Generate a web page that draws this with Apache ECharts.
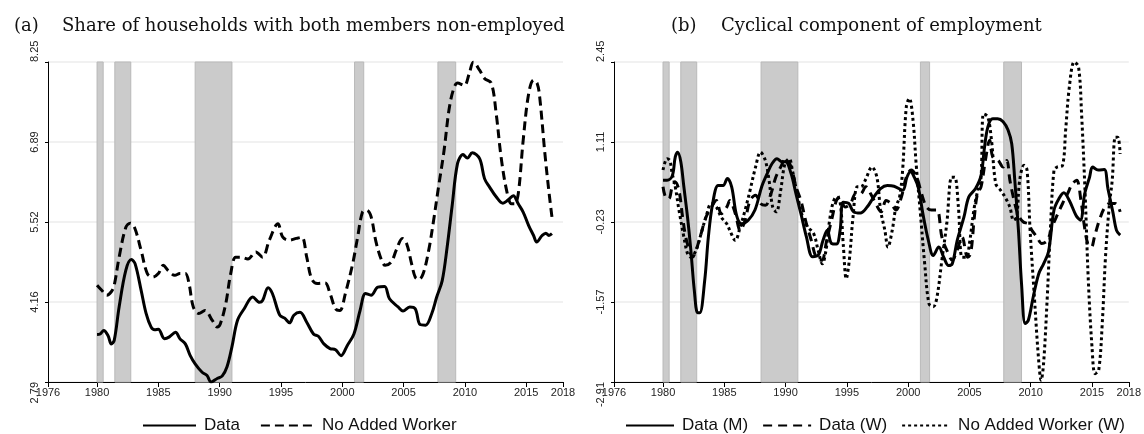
<!DOCTYPE html>
<html>
<head>
<meta charset="utf-8">
<script src="https://cdn.jsdelivr.net/npm/echarts@6/dist/echarts.min.js"></script>
<style>
html, body { margin: 0; padding: 0; background: #fff; }
#main { width: 1144px; height: 434px; }
</style>
</head>
<body>
<div id="main"></div>
<script>
// x axis ticks (years)
var xTicks = [1976, 1980, 1985, 1990, 1995, 2000, 2005, 2010, 2015, 2018];
// y tick labels
var yTicksA = ['2.79', '4.16', '5.52', '6.89', '8.25'];
var yTicksB = ['-2.91', '-1.57', '-0.23', '1.11', '2.45'];
// recession periods
var recessions = [[1980.0, 1980.5], [1981.45, 1982.75], [1988.0, 1991.0], [2001.0, 2001.75], [2007.8, 2009.25]];

// panel (a) - Data
var aDataX = [1980.0, 1980.25, 1980.55, 1980.9, 1981.16, 1981.4, 1981.8, 1982.35, 1982.8, 1983.1, 1983.6, 1984.0, 1984.4, 1984.7, 1985.0, 1985.5, 1985.9, 1986.4, 1986.75, 1987.2, 1987.6, 1988.0, 1988.55, 1988.97, 1989.3, 1989.8, 1990.2, 1990.6, 1991.0, 1991.45, 1992.0, 1992.7, 1993.25, 1993.5, 1993.95, 1994.3, 1994.9, 1995.3, 1995.7, 1996.05, 1996.55, 1997.1, 1997.65, 1998.05, 1998.5, 1999.0, 1999.45, 1999.9, 2000.4, 2000.95, 2001.45, 2001.9, 2002.35, 2002.9, 2003.45, 2003.85, 2004.55, 2004.95, 2005.5, 2005.95, 2006.35, 2006.8, 2007.3, 2007.7, 2008.15, 2008.55, 2008.95, 2009.4, 2009.85, 2010.2, 2010.6, 2011.2, 2011.6, 2012.0, 2012.55, 2013.1, 2013.5, 2013.95, 2014.35, 2014.75, 2015.2, 2015.6, 2015.85, 2016.3, 2016.6, 2016.85, 2017.1];
var aDataY = [3.60, 3.61, 3.67, 3.58, 3.44, 3.50, 4.07, 4.70, 4.88, 4.81, 4.35, 3.96, 3.73, 3.68, 3.69, 3.53, 3.56, 3.64, 3.53, 3.44, 3.24, 3.10, 2.96, 2.90, 2.79, 2.85, 2.89, 3.05, 3.39, 3.84, 4.04, 4.24, 4.15, 4.18, 4.40, 4.30, 3.93, 3.88, 3.80, 3.93, 3.98, 3.81, 3.61, 3.57, 3.44, 3.36, 3.34, 3.24, 3.41, 3.61, 4.01, 4.30, 4.27, 4.41, 4.42, 4.21, 4.07, 4.00, 4.07, 4.04, 3.77, 3.76, 3.96, 4.24, 4.52, 5.09, 5.78, 6.52, 6.67, 6.61, 6.70, 6.60, 6.26, 6.12, 5.95, 5.84, 5.89, 5.97, 5.83, 5.69, 5.46, 5.29, 5.18, 5.29, 5.33, 5.29, 5.32];
// panel (a) - No Added Worker
var aNawX = [1980.0, 1980.4, 1980.8, 1981.16, 1981.4, 1981.8, 1982.35, 1982.7, 1983.05, 1983.6, 1984.1, 1984.55, 1985.0, 1985.4, 1985.8, 1986.35, 1986.75, 1987.2, 1987.5, 1987.85, 1988.3, 1988.8, 1989.4, 1989.8, 1990.05, 1990.5, 1990.9, 1991.3, 1991.7, 1992.3, 1992.95, 1993.5, 1994.05, 1994.75, 1995.15, 1995.7, 1996.25, 1996.7, 1997.1, 1997.5, 1997.95, 1998.6, 1999.0, 1999.45, 1999.8, 2000.25, 2000.85, 2001.25, 2001.65, 2002.0, 2002.35, 2002.75, 2003.2, 2003.5, 2004.0, 2004.4, 2004.9, 2005.25, 2005.65, 2005.95, 2006.25, 2006.6, 2007.05, 2007.45, 2007.85, 2008.3, 2008.7, 2009.05, 2009.4, 2009.95, 2010.35, 2010.7, 2011.2, 2011.6, 2012.15, 2012.55, 2012.95, 2013.4, 2013.8, 2014.05, 2014.35, 2014.75, 2015.2, 2015.6, 2015.9, 2016.1, 2016.55, 2016.9, 2017.15];
var aNawY = [4.44, 4.35, 4.27, 4.33, 4.44, 4.92, 5.43, 5.50, 5.43, 5.03, 4.64, 4.58, 4.64, 4.78, 4.69, 4.61, 4.64, 4.64, 4.47, 4.07, 3.96, 4.01, 3.84, 3.73, 3.78, 4.13, 4.64, 4.92, 4.92, 4.89, 5.01, 4.92, 5.21, 5.49, 5.26, 5.21, 5.24, 5.26, 4.92, 4.55, 4.47, 4.48, 4.30, 4.04, 4.01, 4.30, 4.81, 5.26, 5.69, 5.72, 5.61, 5.18, 4.87, 4.78, 4.84, 5.04, 5.24, 5.15, 4.81, 4.58, 4.54, 4.64, 5.04, 5.55, 6.12, 6.74, 7.43, 7.77, 7.89, 7.85, 8.05, 8.25, 8.11, 7.97, 7.89, 7.37, 6.63, 6.06, 5.83, 5.83, 6.00, 6.91, 7.71, 7.94, 7.88, 7.65, 6.63, 5.95, 5.52];

// panel (b) - Data (M)
var bMenX = [1980.0, 1980.33, 1980.75, 1981.0, 1981.2, 1981.45, 1981.7, 1982.0, 1982.27, 1982.55, 1982.82, 1983.0, 1983.4, 1983.7, 1984.05, 1984.5, 1984.9, 1985.25, 1985.6, 1986.0, 1986.4, 1986.95, 1987.5, 1988.05, 1988.5, 1988.9, 1989.3, 1989.7, 1990.0, 1990.45, 1990.85, 1991.25, 1991.7, 1992.2, 1992.65, 1993.05, 1993.4, 1993.75, 1994.15, 1994.45, 1994.7, 1995.15, 1995.55, 1996.1, 1996.65, 1997.2, 1997.75, 1998.3, 1998.85, 1999.55, 1999.9, 2000.2, 2000.5, 2000.85, 2001.2, 2001.65, 2002.05, 2002.5, 2002.9, 2003.3, 2003.6, 2004.0, 2004.55, 2004.95, 2005.5, 2005.95, 2006.2, 2006.5, 2006.9, 2007.3, 2007.75, 2008.15, 2008.45, 2008.7, 2009.0, 2009.25, 2009.55, 2009.8, 2010.2, 2010.65, 2011.05, 2011.45, 2011.9, 2012.3, 2012.7, 2013.15, 2013.7, 2014.05, 2014.4, 2014.8, 2015.05, 2015.5, 2016.0, 2016.3, 2016.7, 2017.0, 2017.3];
var bMenY = [0.47, 0.47, 0.54, 0.86, 0.94, 0.78, 0.36, -0.15, -0.70, -1.37, -1.75, -1.75, -1.21, -0.48, 0.08, 0.38, 0.38, 0.50, 0.36, -0.12, -0.26, -0.20, -0.03, 0.36, 0.58, 0.75, 0.83, 0.78, 0.78, 0.58, 0.24, -0.09, -0.48, -0.81, -0.79, -0.54, -0.37, -0.59, -0.60, -0.37, 0.10, 0.08, -0.06, -0.08, 0.02, 0.19, 0.33, 0.38, 0.37, 0.30, 0.52, 0.61, 0.52, 0.33, -0.09, -0.54, -0.79, -0.65, -0.82, -0.96, -0.93, -0.54, -0.15, 0.19, 0.33, 0.55, 0.97, 1.36, 1.50, 1.50, 1.45, 1.31, 1.08, 0.47, -0.37, -1.26, -1.93, -1.88, -1.49, -1.10, -0.93, -0.73, -0.03, 0.16, 0.26, 0.13, -0.12, -0.20, 0.24, 0.52, 0.69, 0.64, 0.65, 0.33, -0.06, -0.37, -0.45];
// panel (b) - Data (W)
var bWomX = [1980.0, 1980.2, 1980.47, 1980.75, 1981.0, 1981.3, 1981.6, 1981.85, 1982.15, 1982.4, 1982.7, 1983.1, 1983.5, 1983.95, 1984.35, 1984.75, 1985.2, 1985.45, 1985.9, 1986.3, 1986.7, 1987.1, 1987.55, 1987.95, 1988.35, 1988.8, 1989.2, 1989.6, 1990.0, 1990.45, 1990.85, 1991.25, 1991.7, 1992.1, 1992.5, 1992.95, 1993.35, 1993.75, 1994.15, 1994.45, 1994.85, 1995.3, 1995.7, 1996.1, 1996.55, 1996.95, 1997.35, 1997.8, 1998.2, 1998.6, 1999.0, 1999.45, 1999.85, 2000.25, 2000.7, 2001.1, 2001.5, 2001.9, 2002.35, 2002.75, 2003.15, 2003.6, 2004.0, 2004.4, 2004.85, 2005.1, 2005.4, 2005.65, 2005.95, 2006.3, 2006.65, 2006.9, 2007.35, 2007.75, 2008.05, 2008.3, 2008.7, 2009.0, 2009.4, 2009.8, 2010.1, 2010.5, 2010.9, 2011.35, 2011.75, 2012.15, 2012.6, 2013.0, 2013.4, 2013.75, 2014.1, 2014.35, 2014.65, 2014.95, 2015.2, 2015.6, 2016.05, 2016.45, 2016.9, 2017.3];
var bWomY = [0.36, 0.19, 0.16, 0.36, 0.44, 0.30, -0.15, -0.48, -0.70, -0.82, -0.70, -0.43, -0.15, 0.02, 0.13, -0.09, 0.02, 0.13, -0.09, -0.37, -0.20, 0.13, 0.22, 0.08, 0.05, 0.24, 0.52, 0.69, 0.83, 0.69, 0.36, 0.13, -0.26, -0.54, -0.82, -0.87, -0.54, -0.20, 0.13, 0.19, 0.02, 0.08, 0.24, 0.24, 0.36, 0.24, 0.08, -0.06, 0.13, 0.08, -0.03, 0.19, 0.52, 0.64, 0.52, 0.24, 0.02, -0.03, -0.03, -0.48, -0.70, -0.87, -0.70, -0.48, -0.82, -0.76, -0.15, 0.24, 0.36, 0.80, 1.14, 0.86, 0.80, 0.69, 0.80, 0.47, 0.08, -0.12, -0.23, -0.26, -0.37, -0.48, -0.59, -0.54, -0.31, -0.12, 0.08, 0.24, 0.41, 0.47, 0.13, -0.26, -0.59, -0.65, -0.48, -0.20, 0.02, 0.08, 0.08, -0.06];
// panel (b) - No Added Worker (W)
var bNawX = [1980.0, 1980.33, 1980.55, 1980.75, 1981.0, 1981.3, 1981.7, 1982.0, 1982.27, 1982.7, 1983.1, 1983.5, 1983.95, 1984.35, 1984.75, 1985.2, 1985.45, 1985.9, 1986.3, 1986.7, 1987.1, 1987.55, 1987.95, 1988.35, 1988.65, 1988.95, 1989.25, 1989.6, 1989.95, 1990.3, 1990.55, 1991.0, 1991.4, 1991.8, 1992.3, 1992.65, 1993.0, 1993.3, 1993.55, 1993.85, 1994.15, 1994.45, 1994.7, 1994.95, 1995.2, 1995.5, 1995.85, 1996.15, 1996.5, 1997.05, 1997.45, 1997.75, 1998.1, 1998.35, 1998.7, 1999.0, 1999.3, 1999.55, 1999.85, 2000.1, 2000.4, 2000.65, 2001.0, 2001.35, 2001.7, 2002.05, 2002.35, 2002.75, 2003.15, 2003.55, 2003.8, 2004.1, 2004.4, 2004.75, 2005.0, 2005.4, 2005.75, 2005.95, 2006.15, 2006.5, 2006.8, 2007.15, 2007.55, 2007.9, 2008.3, 2008.6, 2008.85, 2009.1, 2009.45, 2009.7, 2009.95, 2010.3, 2010.65, 2010.85, 2011.05, 2011.35, 2011.6, 2011.9, 2012.15, 2012.6, 2012.85, 2013.15, 2013.55, 2013.9, 2014.15, 2014.45, 2014.7, 2015.0, 2015.25, 2015.55, 2015.85, 2016.1, 2016.4, 2016.65, 2016.9, 2017.1, 2017.3];
var bNawY = [0.64, 0.83, 0.80, 0.58, 0.36, -0.03, -0.48, -0.76, -0.82, -0.70, -0.43, -0.15, 0.08, 0.02, -0.15, -0.26, -0.37, -0.54, -0.31, -0.03, 0.30, 0.69, 0.94, 0.80, 0.47, 0.02, -0.06, 0.30, 0.75, 0.83, 0.64, 0.19, -0.15, -0.31, -0.43, -0.70, -0.93, -0.70, -0.26, 0.08, 0.19, 0.10, -0.59, -1.18, -0.87, -0.15, 0.36, 0.36, 0.47, 0.69, 0.52, -0.03, -0.37, -0.65, -0.37, 0.02, 0.19, 0.64, 1.70, 1.84, 1.47, 0.75, -0.09, -0.93, -1.60, -1.65, -1.49, -0.87, -0.26, 0.52, 0.52, 0.02, -0.82, -0.82, -0.59, 0.02, 0.36, 0.52, 1.58, 1.53, 1.14, 0.41, 0.30, 0.19, 0.02, -0.20, -0.15, 0.47, 0.72, 0.64, -0.37, -1.49, -2.55, -2.88, -2.60, -1.49, -0.37, 0.64, 0.69, 0.72, 1.31, 2.03, 2.45, 2.37, 1.58, 0.19, -1.21, -2.32, -2.77, -2.71, -1.88, -0.82, 0.02, 0.47, 1.19, 1.19, 0.91];

function zip(xs, ys) {
	var out = [];
	for (var i = 0; i < xs.length; i++) {
		out.push([xs[i], ys[i]]);
	}
	return out;
}

// 刻度值 -> 最近的标签文字
function nearestLabel(labels) {
	return function(v) {
		var best = labels[0], d = 1e9;
		for (var i = 0; i < labels.length; i++) {
			var dd = Math.abs(parseFloat(labels[i]) - v);
			if (dd < d) { d = dd; best = labels[i]; }
		}
		return best;
	};
}

var bands = recessions.map(function(r) { return [{ xAxis: r[0] }, { xAxis: r[1] }]; });

var axisFont = { fontFamily: 'Liberation Sans', fontSize: 11, color: '#222' };

function xAxisOpt(idx) {
	return {
		type: 'value', gridIndex: idx, min: 1976, max: 2018,
		axisLine: { show: true, onZero: false, lineStyle: { color: '#000', width: 1 } },
		axisTick: { show: true, length: 5, customValues: xTicks, lineStyle: { color: '#000' } },
		axisLabel: Object.assign({ customValues: xTicks, margin: 5, formatter: function(v) { return String(v); } }, axisFont),
		splitLine: { show: false }
	};
}

function yAxisOpt(idx, labels) {
	var lo = parseFloat(labels[0]), hi = parseFloat(labels[labels.length - 1]);
	return {
		type: 'value', gridIndex: idx, min: lo, max: hi, interval: (hi - lo) / 4,
		axisLine: { show: true, onZero: false, lineStyle: { color: '#000', width: 1 } },
		axisTick: { show: true, length: 3, lineStyle: { color: '#000' } },
		axisLabel: Object.assign({ rotate: 90, margin: 8, formatter: nearestLabel(labels),
			alignMinLabel: 'right', alignMaxLabel: 'left' }, axisFont),
		splitLine: { show: true, lineStyle: { color: '#ececec', width: 1.5 } }
	};
}

function lineSeries(name, idx, data, type, width) {
	return {
		name: name, type: 'line', xAxisIndex: idx, yAxisIndex: idx,
		data: data, symbol: 'none', smooth: 0.35, z: 3,
		lineStyle: { color: '#000', width: width, type: type },
		itemStyle: { color: '#000' }
	};
}

function bandSeries(idx) {
	return {
		name: 'rec' + idx, type: 'line', xAxisIndex: idx, yAxisIndex: idx, data: [], z: 1,
		markArea: {
			silent: true,
			itemStyle: { color: '#cbcbcb', borderColor: '#b9b9b9', borderWidth: 1 },
			data: bands
		}
	};
}

var myChart = echarts.init(document.getElementById('main'));

var titleFont = { fontFamily: 'DejaVu Serif', fontSize: 18, fontWeight: 'normal', color: '#111' };
var legendText = { fontFamily: 'Liberation Sans', fontSize: 17, color: '#111', padding: [0, 0, 0, 3] };

var option = {
	animation: false,
	backgroundColor: '#fff',
	title: [
		{ text: '(a)', left: 9, top: 12, textStyle: titleFont },
		{ text: 'Share of households with both members non-employed', left: 57, top: 12, textStyle: titleFont },
		{ text: '(b)', left: 666, top: 12, textStyle: titleFont },
		{ text: 'Cyclical component of employment', left: 716, top: 12, textStyle: titleFont }
	],
	grid: [
		{ left: 48, top: 62, width: 515, height: 320 },
		{ left: 614, top: 62, width: 516, height: 320 }
	],
	legend: [
		{
			data: ['Data', 'No Added Worker'], left: 137, top: 412,
			itemWidth: 53, itemHeight: 14, itemGap: 20,
			itemStyle: { opacity: 0 },
			textStyle: legendText
		},
		{
			data: ['Data (M)', 'Data (W)', 'No Added Worker (W)'], left: 620, top: 412,
			itemWidth: 48, itemHeight: 14, itemGap: 14,
			itemStyle: { opacity: 0 },
			textStyle: legendText
		}
	],
	xAxis: [xAxisOpt(0), xAxisOpt(1)],
	yAxis: [yAxisOpt(0, yTicksA), yAxisOpt(1, yTicksB)],
	series: [
		bandSeries(0),
		bandSeries(1),
		lineSeries('Data', 0, zip(aDataX, aDataY), 'solid', 3),
		lineSeries('No Added Worker', 0, zip(aNawX, aNawY), [9, 5], 3),
		lineSeries('Data (M)', 1, zip(bMenX, bMenY), 'solid', 3),
		lineSeries('Data (W)', 1, zip(bWomX, bWomY), [9, 6], 3),
		lineSeries('No Added Worker (W)', 1, zip(bNawX, bNawY), [3, 3], 3)
	]
};

myChart.setOption(option);
</script>
</body>
</html>
